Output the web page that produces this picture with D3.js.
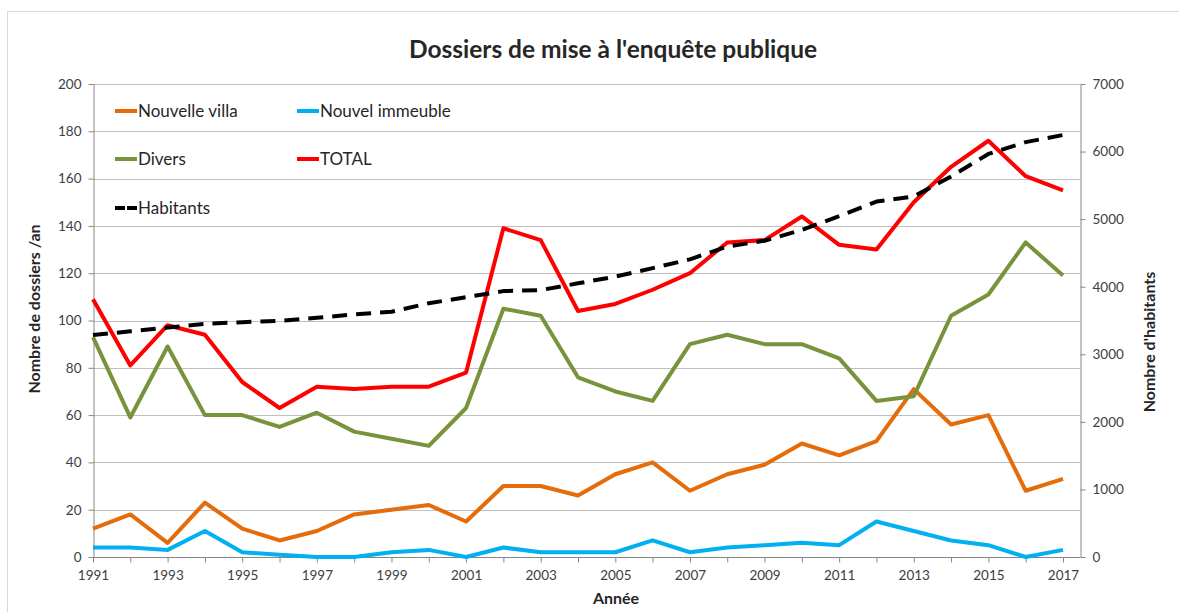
<!DOCTYPE html>
<html>
<head>
<meta charset="utf-8">
<script src="https://cdn.jsdelivr.net/npm/d3@7"></script>
<style>
  body { margin: 0; background: #fff; }
  svg { display: block; font-family: Lato, "Open Sans", sans-serif; }
</style>
</head>
<body>
<svg id="chart" width="1179" height="612"></svg>
<script>
const years = d3.range(1991, 2018);
const villa = [12, 18, 6, 23, 12, 7, 11, 18, 20, 22, 15, 30, 30, 26, 35, 40, 28, 35, 39, 48, 43, 49, 71, 56, 60, 28, 33];
const immeuble = [4, 4, 3, 11, 2, 1, 0, 0, 2, 3, 0, 4, 2, 2, 2, 7, 2, 4, 5, 6, 5, 15, 11, 7, 5, 0, 3];
const divers = [93, 59, 89, 60, 60, 55, 61, 53, 50, 47, 63, 105, 102, 76, 70, 66, 90, 94, 90, 90, 84, 66, 68, 102, 111, 133, 119];
const total = [109, 81, 98, 94, 74, 63, 72, 71, 72, 72, 78, 139, 134, 104, 107, 113, 120, 133, 134, 144, 132, 130, 150, 165, 176, 161, 155];
const habitants = [3285, 3340, 3395, 3450, 3475, 3495, 3540, 3590, 3630, 3755, 3845, 3935, 3950, 4050, 4150, 4275, 4405, 4595, 4680, 4840, 5045, 5260, 5335, 5630, 5965, 6140, 6245];
const leftTicks = [0, 20, 40, 60, 80, 100, 120, 140, 160, 180, 200];
const rightTicks = [0, 1000, 2000, 3000, 4000, 5000, 6000, 7000];

const series = [
    {name: "Nouvelle villa", values: villa, color: "#E46C0A", axis: "left"},
    {name: "Nouvel immeuble", values: immeuble, color: "#00B0F0", axis: "left"},
    {name: "Divers", values: divers, color: "#77933C", axis: "left"},
    {name: "TOTAL", values: total, color: "#FF0000", axis: "left"},
    {name: "Habitants", values: habitants, color: "#000000", axis: "right", dash: "15,9"}
];

const svg = d3.select("#chart");
const plotLeft = 93, plotRight = 1080, plotTop = 84, plotBottom = 557;

const x = d3.scaleLinear().domain([1991, 2017]).range([plotLeft, 1063]);
const y = d3.scaleLinear().domain([0, 200]).range([plotBottom, plotTop]);
const y2 = d3.scaleLinear().domain([0, 7000]).range([plotBottom, plotTop]);

// chart frame
svg.append("rect")
    .attr("x", 7.5).attr("y", 11.5)
    .attr("width", 1300).attr("height", 800)
    .attr("fill", "none")
    .attr("stroke", "#d9d9d9");

svg.append("text")
    .attr("x", 613).attr("y", 58)
    .attr("text-anchor", "middle")
    .style("font-size", "24.5px")
    .style("font-weight", "bold")
    .style("fill", "#262626")
    .text("Dossiers de mise à l'enquête publique");

// gridlines
svg.append("g").selectAll("line")
    .data(leftTicks.filter(d => d > 0))
    .enter().append("line")
    .attr("x1", plotLeft).attr("x2", plotRight)
    .attr("y1", d => Math.round(y(d)) + 0.5)
    .attr("y2", d => Math.round(y(d)) + 0.5)
    .attr("stroke", "#bfbfbf");

const axisStyle = g => {
    g.select(".domain").attr("stroke", "#868686");
    g.selectAll(".tick line").attr("stroke", "#868686");
    g.selectAll(".tick text").style("font-size", "13.5px").style("fill", "#404040")
        .style("font-family", "Lato, sans-serif");
};

svg.append("g")
    .attr("transform", `translate(${plotLeft + 0.5},0)`)
    .call(d3.axisLeft(y).tickValues(leftTicks).tickSize(5).tickPadding(7).tickSizeOuter(0))
    .call(axisStyle);

svg.append("g")
    .attr("transform", `translate(${plotRight + 0.5},0)`)
    .call(d3.axisRight(y2).tickValues(rightTicks).tickFormat(d3.format("d"))
        .tickSize(5).tickPadding(7).tickSizeOuter(0))
    .call(axisStyle);

const xAxis = svg.append("g")
    .attr("transform", `translate(0,${plotBottom + 0.5})`)
    .call(d3.axisBottom(x).tickValues(years).tickSize(5).tickPadding(8)
        .tickFormat(d => (d % 2 === 1 ? d : "")).tickSizeOuter(0))
    .call(axisStyle);
xAxis.select(".domain").attr("d", `M${plotLeft},0H${plotRight}`);

// axis titles
svg.append("text")
    .attr("transform", "translate(40,309) rotate(-90)")
    .attr("text-anchor", "middle")
    .style("font-size", "16px").style("font-weight", "bold").style("fill", "#262626")
    .text("Nombre de dossiers /an");

svg.append("text")
    .attr("transform", "translate(1155,342) rotate(-90)")
    .attr("text-anchor", "middle")
    .style("font-size", "16px").style("font-weight", "bold").style("fill", "#262626")
    .text("Nombre d'habitants");

svg.append("text")
    .attr("x", 616).attr("y", 604)
    .attr("text-anchor", "middle")
    .style("font-size", "16px").style("font-weight", "bold").style("fill", "#262626")
    .text("Année");

// lines
series.forEach(function (s) {
    const ys = s.axis === "left" ? y : y2;
    const line = d3.line()
        .x((d, i) => x(years[i]))
        .y(d => ys(d));
    svg.append("path")
        .datum(s.values)
        .attr("d", line)
        .attr("fill", "none")
        .attr("stroke", s.color)
        .attr("stroke-width", 4)
        .attr("stroke-linejoin", "round")
        .attr("stroke-dasharray", s.dash || null);
});

// legend
const legendPos = [[115, 111], [297, 111], [115, 159], [297, 159], [115, 208]];
const legend = svg.append("g").selectAll("g")
    .data(series)
    .enter().append("g")
    .attr("transform", (d, i) => `translate(${legendPos[i][0]},${legendPos[i][1]})`);

legend.append("line")
    .attr("x1", 0).attr("x2", 22)
    .attr("stroke", d => d.color)
    .attr("stroke-width", 4)
    .attr("stroke-dasharray", d => d.dash ? "10,2" : null);

legend.append("text")
    .attr("x", 23).attr("dy", "0.35em")
    .style("font-size", "17px").style("fill", "#262626")
    .text(d => d.name);
</script>
</body>
</html>
